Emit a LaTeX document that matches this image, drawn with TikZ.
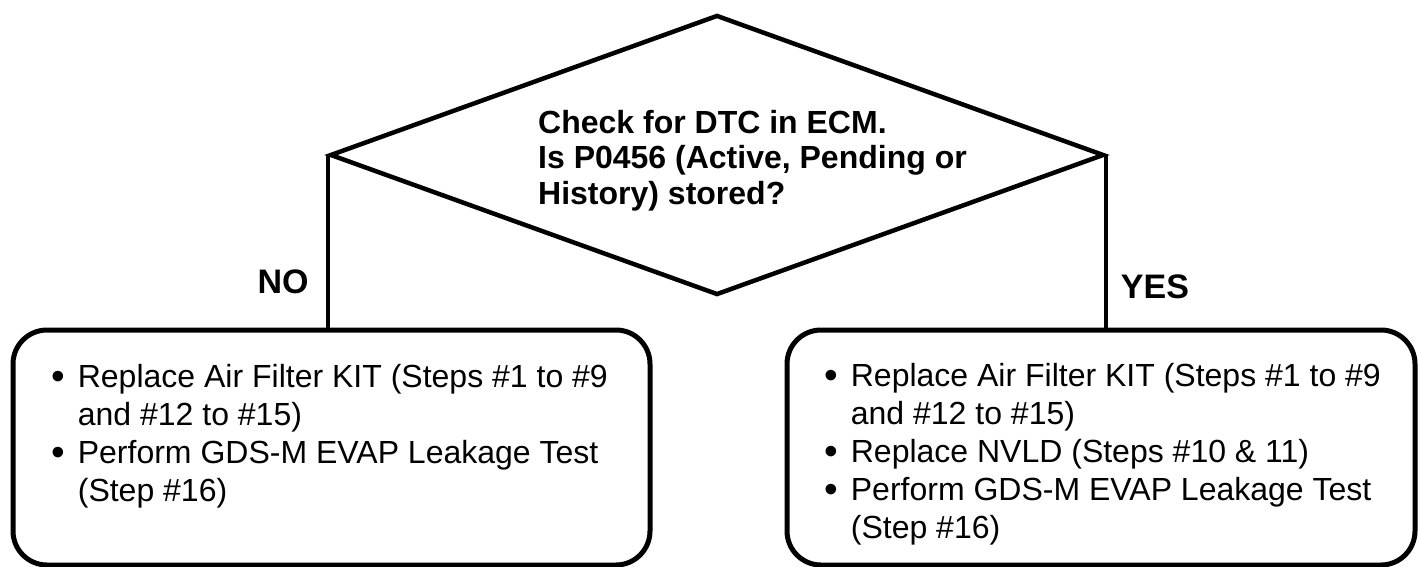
\documentclass[tikz,border=0pt]{standalone}
\usepackage{fontspec}
\setmainfont{Liberation Sans}
\usetikzlibrary{shapes.geometric}
\newcommand{\bigbul}{\raisebox{-2pt}{\fontsize{39}{38}\selectfont\textbullet}}
\tikzset{
  decision/.style={diamond, draw, line width=4.5pt, inner sep=0pt, minimum width=774pt, minimum height=280pt},
  actionbox/.style={rectangle, draw, line width=5pt, rounded corners=34pt, inner sep=0pt, minimum height=235pt},
  conn/.style={line width=4pt},
  lbl/.style={font=\fontsize{34}{40}\selectfont\bfseries, inner sep=0pt},
  body/.style={inner sep=0pt, anchor=base west, font=\fontsize{32}{38}\selectfont},
  qtext/.style={inner sep=0pt, anchor=base west, font=\fontsize{32}{35.5}\selectfont\bfseries}
}
\begin{document}
\begin{tikzpicture}[x=1pt,y=-1pt]
\useasboundingbox (0,0) rectangle (1418,567);
\node[decision] (q) at (717,155) {};
\node[qtext] (qt) at (538,133) {\begin{tabular}[t]{@{}l@{}}Check for DTC in ECM.\\Is P0456 (Active, Pending or\\History) stored?\end{tabular}};
\node[actionbox, minimum width=637pt] (no) at (331.5,447.5) {};
\node[actionbox, minimum width=628pt] (yes) at (1101,447.5) {};
\draw[conn] (q.west) -- (q.west |- no.north);
\draw[conn] (q.east) -- (q.east |- yes.north);
\node[lbl] (nolbl) at (283,282) {NO};
\node[lbl] (yeslbl) at (1155,287) {YES};
\node[body] (notext) at (51,387) {\begin{tabular}[t]{@{}l@{\hspace{13pt}}l@{}}
\bigbul & Replace Air Filter KIT (Steps \#1 to \#9\\
 & and \#12 to \#15)\\
\bigbul & Perform GDS-M EVAP Leakage Test\\
 & (Step \#16)\end{tabular}};
\node[body] (yestext) at (824,386) {\begin{tabular}[t]{@{}l@{\hspace{13pt}}l@{}}
\bigbul & Replace Air Filter KIT (Steps \#1 to \#9\\
 & and \#12 to \#15)\\
\bigbul & Replace NVLD (Steps \#10 \& 11)\\
\bigbul & Perform GDS-M EVAP Leakage Test\\
 & (Step \#16)\end{tabular}};
\end{tikzpicture}
\end{document}
